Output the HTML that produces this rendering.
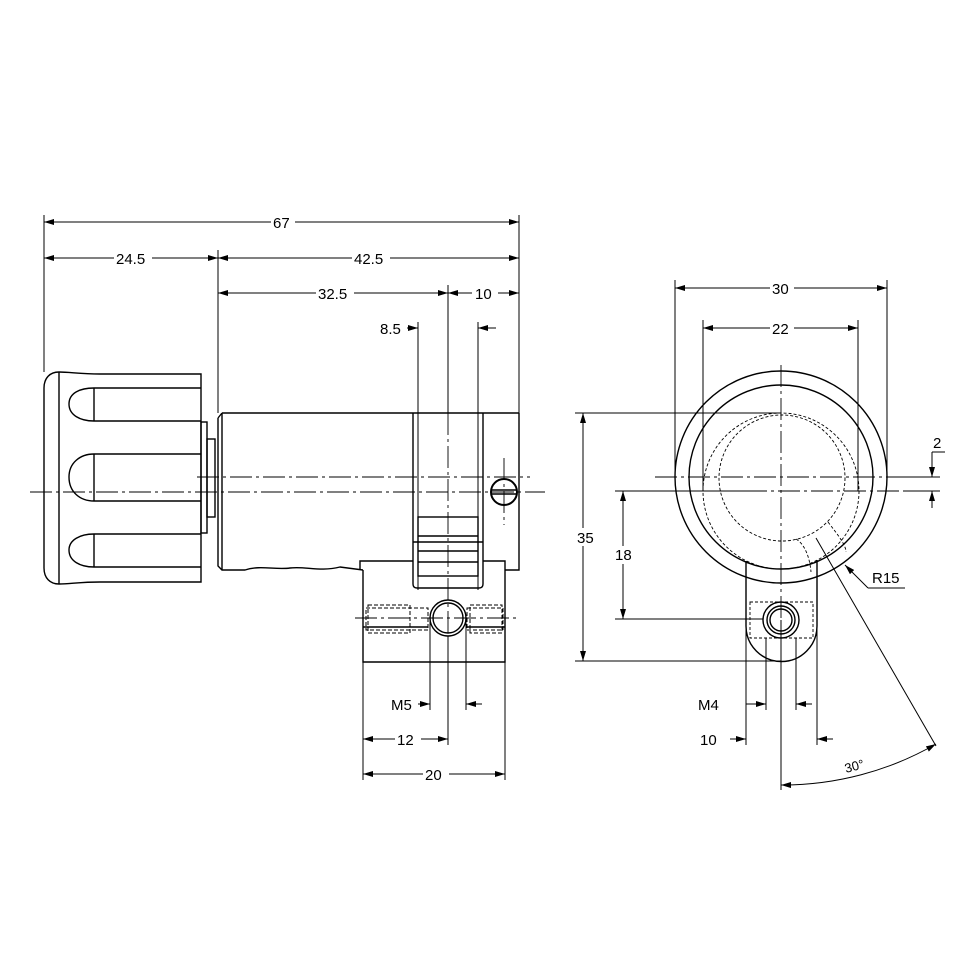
<!DOCTYPE html>
<html><head><style>html,body{margin:0;padding:0;background:#fff}svg{display:block}text{font-family:"Liberation Sans",sans-serif;font-size:15px;fill:#000}</style></head><body>
<svg width="975" height="976" viewBox="0 0 975 976" xmlns="http://www.w3.org/2000/svg">
<defs>
<marker id="a" viewBox="0 0 10 6" refX="10" refY="3" markerWidth="10" markerHeight="6" orient="auto-start-reverse" markerUnits="userSpaceOnUse"><path d="M0,0 L10,3 L0,6z" fill="#000"/></marker>
</defs>
<g stroke="#000" fill="none" stroke-width="1.4">
<path d="M59,372 C50,372 44,378 44,388 L44,568 C44,578 50,584 59,584 C70,584 80,582 100,582 L201,582 L201,374 L100,374 C80,374 70,372 59,372Z"/>
<line x1="59" y1="372" x2="59" y2="584"/>
<path d="M201,388 L94,388 C80,388 69,393 69,404 C69,415 80,421 94,421 L201,421"/>
<line x1="94" y1="388" x2="94" y2="421"/>
<path d="M201,454 L94,454 C80,454 69,463 69,477 C69,492 80,501 94,501 L201,501"/>
<line x1="94" y1="454" x2="94" y2="501"/>
<path d="M201,534 L94,534 C80,534 69,540 69,550 C69,561 80,567 94,567 L201,567"/>
<line x1="94" y1="534" x2="94" y2="567"/>
<rect x="201" y="422" width="6" height="111"/>
<rect x="207" y="439" width="8" height="78"/>
<path d="M222,413 L519,413 M218,418 L222,413 M218,418 L218,566 L222,570 L245,570 C260,565 275,570 290,568 C305,566 320,572 340,567 L363,570"/>
<line x1="222" y1="413" x2="222" y2="570"/>
<path d="M519,413 L519,570 L505,570 M483,542 L413,542"/>
<path d="M413,413 L413,584 Q413,588 417,588 L479,588 Q483,588 483,584 L483,413"/>
<rect x="418" y="517" width="60" height="59"/>
<line x1="418" y1="536" x2="478" y2="536"/>
<line x1="418" y1="551" x2="478" y2="551"/>
<line x1="418" y1="562" x2="478" y2="562"/>
<path d="M363,570 L363,662 L505,662 L505,561 L483,561 M413,561 L360,561 L360,570"/>
<path d="M363,627 L428,627 M467,627 L505,627"/>
<circle cx="448" cy="618" r="18"/><circle cx="448" cy="618" r="15"/>
<circle cx="504" cy="492" r="13" stroke-width="2"/>
<line x1="491" y1="490" x2="517" y2="490"/><line x1="491" y1="494" x2="517" y2="494"/>
</g>
<g stroke="#000" fill="none" stroke-width="1" stroke-dasharray="4,2">
<rect x="368" y="605" width="42" height="28"/><rect x="366" y="608" width="62" height="22"/>
<rect x="470" y="605" width="32" height="28"/><rect x="467" y="608" width="36" height="22"/>
</g>
<g stroke="#000" fill="none" stroke-width="0.9" stroke-dasharray="22,4,3,4">
<line x1="30" y1="492" x2="545" y2="492"/>
<line x1="197" y1="477" x2="530" y2="477"/>
<line x1="448" y1="413" x2="448" y2="700"/>
<line x1="504" y1="458" x2="504" y2="525"/>
<line x1="355" y1="618" x2="520" y2="618"/>
</g>
<g stroke="#000" fill="none" stroke-width="1">
<line x1="44" y1="215" x2="44" y2="372"/>
<line x1="519" y1="215" x2="519" y2="413"/>
<line x1="218" y1="250" x2="218" y2="413"/>
<line x1="448" y1="285" x2="448" y2="413"/>
<line x1="418" y1="322" x2="418" y2="590"/>
<line x1="478" y1="322" x2="478" y2="590"/>
<line x1="505" y1="662" x2="505" y2="780"/>
<line x1="363" y1="662" x2="363" y2="780"/>
<line x1="430" y1="618" x2="430" y2="710"/>
<line x1="466" y1="618" x2="466" y2="710"/>
<line x1="448" y1="636" x2="448" y2="745"/>
<line x1="44" y1="222" x2="519" y2="222" marker-start="url(#a)" marker-end="url(#a)"/>
<line x1="44" y1="258" x2="218" y2="258" marker-start="url(#a)" marker-end="url(#a)"/>
<line x1="218" y1="258" x2="519" y2="258" marker-start="url(#a)" marker-end="url(#a)"/>
<line x1="218" y1="293" x2="448" y2="293" marker-start="url(#a)" marker-end="url(#a)"/>
<line x1="448" y1="293" x2="519" y2="293" marker-start="url(#a)" marker-end="url(#a)"/>
<line x1="407" y1="328" x2="418" y2="328" marker-end="url(#a)"/>
<line x1="496" y1="328" x2="478" y2="328" marker-end="url(#a)"/>
<line x1="418" y1="704" x2="430" y2="704" marker-end="url(#a)"/>
<line x1="482" y1="704" x2="466" y2="704" marker-end="url(#a)"/>
<line x1="363" y1="739" x2="448" y2="739" marker-start="url(#a)" marker-end="url(#a)"/>
<line x1="363" y1="774" x2="505" y2="774" marker-start="url(#a)" marker-end="url(#a)"/>
</g>
<g fill="#fff"><rect x="271" y="214" width="24" height="16"/><rect x="114" y="250" width="38" height="16"/><rect x="352" y="250" width="38" height="16"/><rect x="316" y="285" width="38" height="16"/><rect x="472" y="285" width="26" height="16"/><rect x="395" y="731" width="26" height="16"/><rect x="423" y="766" width="26" height="16"/></g>
<text x="273" y="228">67</text><text x="116" y="264">24.5</text><text x="354" y="264">42.5</text><text x="318" y="299">32.5</text><text x="475" y="299">10</text>
<text x="380" y="334">8.5</text><text x="391" y="710">M5</text><text x="397" y="745">12</text><text x="425" y="780">20</text>
<g stroke="#000" fill="none" stroke-width="1.4">
<circle cx="781" cy="477" r="106"/>
<circle cx="781" cy="477" r="92"/>
<path d="M746,561 L746,626 A35.5,35.5 0 0 0 817,626 L817,560"/>
<circle cx="781" cy="620" r="18"/><circle cx="781" cy="620" r="14"/><circle cx="781" cy="620" r="11"/>
</g>
<g stroke="#000" fill="none" stroke-width="0.9" stroke-dasharray="3,2">
<circle cx="781" cy="491" r="78"/>
<circle cx="782" cy="478" r="63"/>
<rect x="750" y="602" width="63" height="36"/>
<path d="M796,539 C806,545 810,560 811,572 M828,522 C838,535 846,545 846,552 M746,561 L746,600 M817,560 L817,600"/>
</g>
<g stroke="#000" fill="none" stroke-width="0.9" stroke-dasharray="22,4,3,4">
<line x1="655" y1="477" x2="905" y2="477"/>
<line x1="781" y1="365" x2="781" y2="680"/>
<line x1="745" y1="491" x2="905" y2="491"/>
</g>
<g stroke="#000" fill="none" stroke-width="1">
<line x1="675" y1="280" x2="675" y2="477"/>
<line x1="887" y1="280" x2="887" y2="477"/>
<line x1="703" y1="320" x2="703" y2="491"/>
<line x1="858" y1="320" x2="858" y2="491"/>
<line x1="575" y1="413" x2="781" y2="413"/>
<line x1="575" y1="661" x2="781" y2="661"/>
<line x1="615" y1="491" x2="745" y2="491"/>
<line x1="615" y1="619" x2="763" y2="619"/>
<line x1="905" y1="477" x2="940" y2="477"/><line x1="905" y1="491" x2="940" y2="491"/>
<line x1="746" y1="626" x2="746" y2="745"/>
<line x1="817" y1="626" x2="817" y2="745"/>
<line x1="766" y1="638" x2="766" y2="710"/>
<line x1="796" y1="638" x2="796" y2="710"/>
<line x1="781" y1="620" x2="781" y2="790"/>
<line x1="816" y1="538" x2="936" y2="746"/>
<line x1="675" y1="288" x2="887" y2="288" marker-start="url(#a)" marker-end="url(#a)"/>
<line x1="703" y1="328" x2="858" y2="328" marker-start="url(#a)" marker-end="url(#a)"/>
<line x1="583" y1="413" x2="583" y2="661" marker-start="url(#a)" marker-end="url(#a)"/>
<line x1="623" y1="491" x2="623" y2="619" marker-start="url(#a)" marker-end="url(#a)"/>
<line x1="932" y1="452" x2="932" y2="477" marker-end="url(#a)"/>
<line x1="932" y1="508" x2="932" y2="491" marker-end="url(#a)"/>
<line x1="932" y1="452" x2="945" y2="452"/>
<line x1="746" y1="704" x2="766" y2="704" marker-end="url(#a)"/>
<line x1="812" y1="704" x2="796" y2="704" marker-end="url(#a)"/>
<line x1="730" y1="739" x2="746" y2="739" marker-end="url(#a)"/>
<line x1="833" y1="739" x2="817" y2="739" marker-end="url(#a)"/>
<path d="M781,785 A308,308 0 0 0 936,744" marker-start="url(#a)" marker-end="url(#a)"/>
<line x1="905" y1="588" x2="868" y2="588"/>
<line x1="868" y1="588" x2="845" y2="565" marker-end="url(#a)"/>
</g>
<g fill="#fff"><rect x="770" y="280" width="24" height="16"/><rect x="770" y="320" width="24" height="16"/><rect x="575" y="528" width="22" height="18"/><rect x="614" y="546" width="20" height="18"/></g>
<text x="772" y="294">30</text><text x="772" y="334">22</text><text x="577" y="543">35</text><text x="615" y="560">18</text>
<text x="933" y="448">2</text><text x="872" y="583">R15</text><text x="698" y="710">M4</text><text x="700" y="745">10</text>
<text x="846" y="773" style="font-size:13px" transform="rotate(-15 846 773)">30°</text>
</svg>
</body></html>
